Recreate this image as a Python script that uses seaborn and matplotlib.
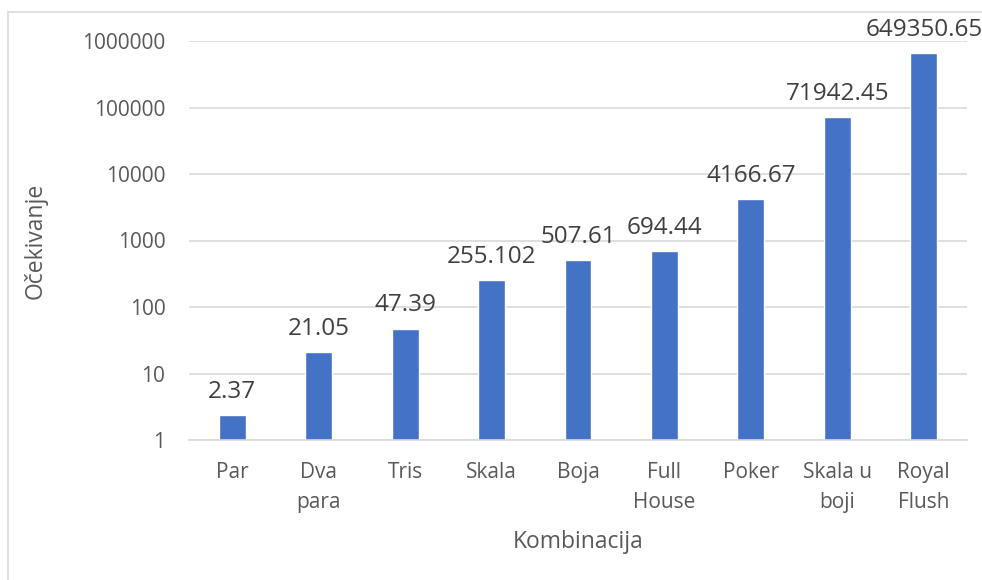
import matplotlib
matplotlib.use("Agg")
import matplotlib.pyplot as plt
import seaborn as sns
import pandas as pd
from matplotlib.lines import Line2D

categories = ["Par", "Dva\npara", "Tris", "Skala", "Boja", "Full\nHouse", "Poker", "Skala u\nboji", "Royal\nFlush"]
values = [2.37, 21.05, 47.39, 255.102, 507.61, 694.44, 4166.67, 71942.45, 649350.65]
value_labels = ["2.37", "21.05", "47.39", "255.102", "507.61", "694.44", "4166.67", "71942.45", "649350.65"]
yticks = [1, 10, 100, 1000, 10000, 100000, 1000000]
ytick_labels = ["1", "10", "100", "1000", "10000", "100000", "1000000"]

sns.set_theme(style="white")
plt.rcParams["font.family"] = ["Open Sans", "DejaVu Sans"]

W, H = 982, 580
fig = plt.figure(figsize=(W / 100, H / 100), dpi=100)
ax = fig.add_axes([189 / W, 1 - 440 / H, (967 - 189) / W, (440 - 41) / H])

df = pd.DataFrame({"cat": categories, "val": values})
sns.barplot(data=df, x="cat", y="val", color="#4472C4", width=0.31, ax=ax,
            saturation=1, log_scale=(False, True))

ax.set_yscale("log")
ax.set_ylim(1, 1000000)
ax.set_xlim(-0.5, len(categories) - 0.5)
ax.set_yticks(yticks)
ax.set_yticklabels(ytick_labels)
ax.minorticks_off()
ax.yaxis.grid(True, color="#d9d9d9", linewidth=1.2)
ax.set_axisbelow(True)
for s in ["top", "right", "left"]:
    ax.spines[s].set_visible(False)
ax.spines["bottom"].set_color("#d9d9d9")
ax.spines["bottom"].set_linewidth(1.2)

txtc = "#595959"
ax.tick_params(axis="both", length=0, colors=txtc, labelsize=15)
ax.tick_params(axis="y", pad=17)
ax.tick_params(axis="x", pad=16)
for t in ax.get_xticklabels():
    t.set_linespacing(1.55)

ax.bar_label(ax.containers[0], labels=value_labels, padding=8, color="#404040", fontsize=17.5)

ax.set_xlabel("Kombinacija", color=txtc, fontsize=16.5, labelpad=12)
ax.set_ylabel("Očekivanje", color=txtc, fontsize=16.5, labelpad=25)

fig.add_artist(Line2D([7.5 / W, 7.5 / W], [0, 1 - 12 / H], transform=fig.transFigure, color="#d9d9d9", lw=1.2))
fig.add_artist(Line2D([7.5 / W, 1], [1 - 12 / H, 1 - 12 / H], transform=fig.transFigure, color="#d9d9d9", lw=1.2))

fig.savefig("out.png", dpi=100, facecolor="white")
